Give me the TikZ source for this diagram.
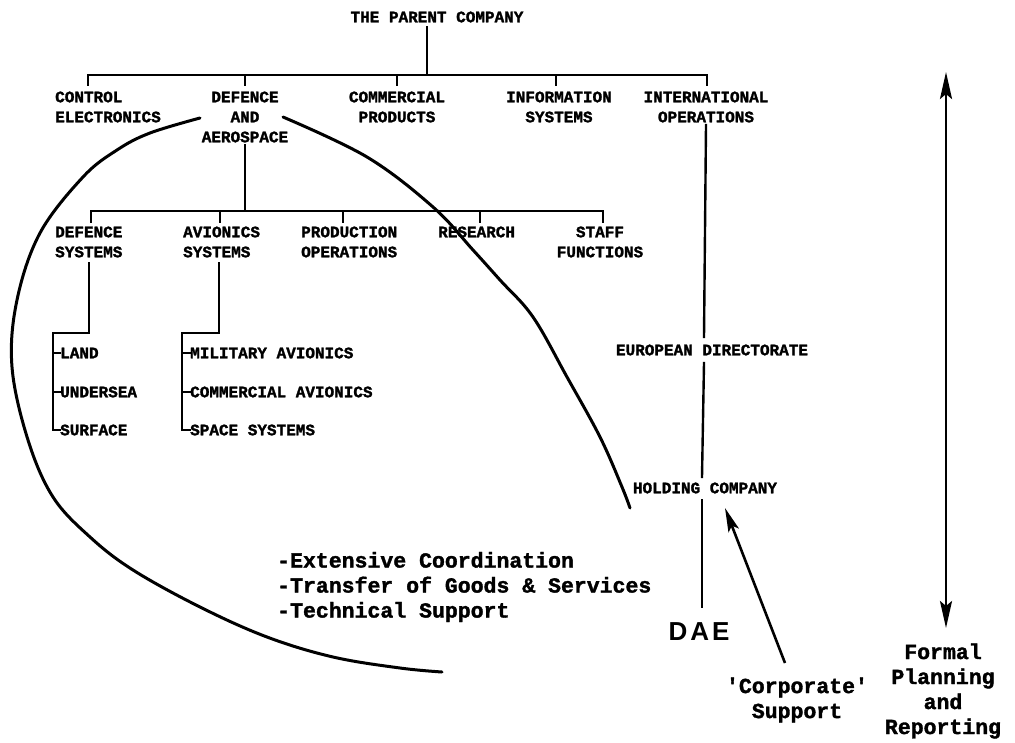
\documentclass[tikz,border=0pt]{standalone}
\usepackage{fontspec}
\setmonofont{Liberation Mono}[BoldFeatures={FakeBold=1.6}]
\newfontfamily\daefont{Liberation Sans}
\usetikzlibrary{arrows.meta}
\begin{document}
\begin{tikzpicture}[x=1pt,y=-1pt,
  lbl/.style={inner sep=0pt,font=\ttfamily\bfseries\fontsize{16}{20}\selectfont},
  lbll/.style={lbl,align=left,anchor=west},
  lblc/.style={lbl,align=center},
  big/.style={inner sep=0pt,font=\ttfamily\bfseries\fontsize{21.5}{25}\selectfont},
  tree/.style={line width=2.4pt,line cap=rect},
  curve/.style={line width=3pt,line cap=round},
  arr/.style={line width=2.6pt,-{Stealth[length=24pt,width=11pt,inset=5pt]}},
  darr/.style={line width=2.6pt,{Stealth[length=27pt,width=12pt,inset=5pt]}-{Stealth[length=27pt,width=12pt,inset=5pt]}}
]
\useasboundingbox[fill=white] (0,0) rectangle (1015,742);

% ---- level 0 / 1 ----
\node[lblc] (parent) at (437,17) {THE PARENT COMPANY};
\node[lbll] (ctrl) at (55,107) {CONTROL\\ELECTRONICS};
\node[lblc] (def) at (245,117) {DEFENCE\\AND\\AEROSPACE};
\node[lblc] (comm) at (397,107) {COMMERCIAL\\PRODUCTS};
\node[lblc] (info) at (559,107) {INFORMATION\\SYSTEMS};
\node[lblc] (intl) at (706,107) {INTERNATIONAL\\OPERATIONS};

% ---- level 2 ----
\node[lbll] (dsys) at (55,242) {DEFENCE\\SYSTEMS};
\node[lbll] (asys) at (183,242) {AVIONICS\\SYSTEMS};
\node[lbll] (prod) at (301,242) {PRODUCTION\\OPERATIONS};
\node[lbll] (res) at (438,232) {RESEARCH};
\node[lblc] (staff) at (600,242) {STAFF\\FUNCTIONS};

% ---- level 3 ----
\node[lbll] (land) at (60,353) {LAND};
\node[lbll] (under) at (60,392) {UNDERSEA};
\node[lbll] (surf) at (60,430) {SURFACE};
\node[lbll] (mil) at (190,353) {MILITARY AVIONICS};
\node[lbll] (cav) at (190,392) {COMMERCIAL AVIONICS};
\node[lbll] (space) at (190,430) {SPACE SYSTEMS};

% ---- international chain ----
\node[lblc] (euro) at (712,350) {EUROPEAN DIRECTORATE};
\node[lblc] (hold) at (705,488) {HOLDING COMPANY};
\node[inner sep=0pt,font=\daefont\bfseries\fontsize{26}{30}\selectfont] (dae) at (699,632) {D\kern3pt A\kern3pt E};

% ---- texts ----
\node[big,align=left,anchor=west] (notes) at (277,587) {-Extensive Coordination\\-Transfer of Goods \& Services\\-Technical Support};
\node[big,align=center] (corp) at (797,700) {'Corporate'\\Support};
\node[big,align=center] (formal) at (943,691) {Formal\\Planning\\and\\Reporting};

% ---- coordinates ----
\coordinate (p1) at (427,27);
\coordinate (b1l) at (88,75);
\coordinate (b1r) at (707,75);
\coordinate (b2l) at (91,211);
\coordinate (b2r) at (603,211);
\coordinate (ds1) at (89,263);
\coordinate (ds2) at (53,333);
\coordinate (as1) at (219,263);
\coordinate (as2) at (182,333);
\coordinate (i1) at (706,125);
\coordinate (i2) at (704,337);
\coordinate (i3) at (704,363);
\coordinate (i4) at (702,477);
\coordinate (i5) at (702,500);
\coordinate (i6) at (702,607);
\coordinate (ca1) at (785,663);
\coordinate (ca2) at (725,508);
\coordinate (fa1) at (946,72);
\coordinate (fa2) at (946,628);

% ---- tree lines ----
\draw[tree] (p1) -- (p1 |- b1l);
\draw[tree] (b1l |- 0,85) -- (b1l) -- (b1r) -- (b1r |- 0,85);
\foreach \x in {245,397,556} \draw[tree] (\x,75) -- (\x,85);
\draw[tree] (def.south) ++(0,3) -- (def.south |- b2l);
\draw[tree] (b2l |- 0,222) -- (b2l) -- (b2r) -- (b2r |- 0,222);
\foreach \x in {220,343,480} \draw[tree] (\x,211) -- (\x,222);

\draw[tree] (ds1) -- (ds1 |- ds2) -- (ds2) -- (ds2 |- surf.west) -- (surf.west);
\draw[tree] (ds2 |- land.west) -- (land.west);
\draw[tree] (ds2 |- under.west) -- (under.west);
\draw[tree] (as1) -- (as1 |- as2) -- (as2) -- (as2 |- space.west) -- (space.west);
\draw[tree] (as2 |- mil.west) -- (mil.west);
\draw[tree] (as2 |- cav.west) -- (cav.west);

\draw[tree] (i1) -- (i2);
\draw[tree] (i3) -- (i4);
\draw[tree] (i5) -- (i6);

% ---- arrows ----
\draw[arr] (ca1) -- (ca2);
\draw[darr] (fa1) -- (fa2);

% ---- curves ----
\draw[curve] plot[smooth,tension=0.6] coordinates {(200,118) (150,133) (117,150) (83,177) (40,233) (17,300) (12,367) (28,440) (53,497) (90,537) (133,570) (200,607) (267,637) (333,657) (400,668) (442,672)};
\draw[curve] plot[smooth,tension=0.6] coordinates {(283,117) (367,157) (433,207) (473,250) (500,280) (533,317) (567,377) (600,437) (622,487) (630,508)};
\end{tikzpicture}
\end{document}
